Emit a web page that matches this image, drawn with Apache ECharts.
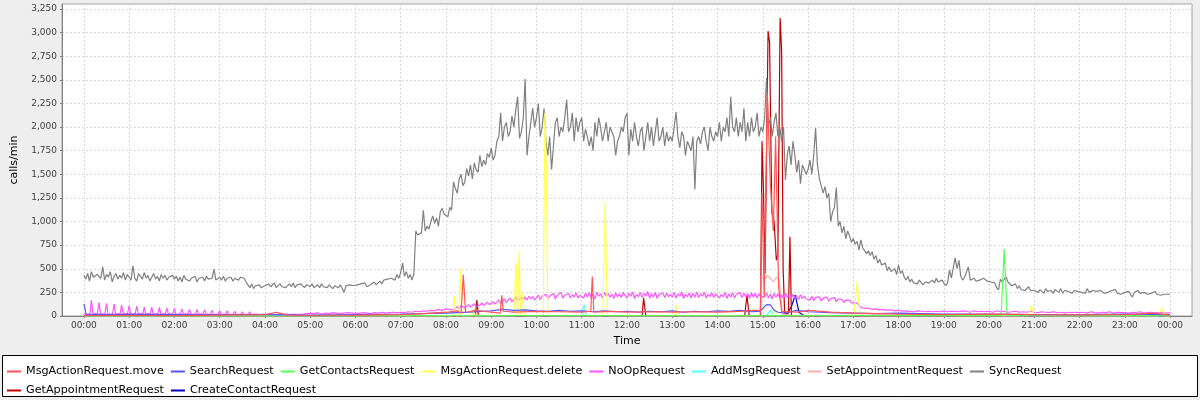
<!DOCTYPE html>
<html>
<head>
<meta charset="utf-8">
<script src="https://cdn.jsdelivr.net/npm/echarts@6/dist/echarts.min.js"></script>
<style>
html,body{margin:0;padding:0;background:#eeeeee;}
#chart{width:1200px;height:400px;}
</style>
</head>
<body>
<div id="chart"></div>
<script>
// ---- data (minutes since 00:00, calls/min) ----
const seriesNames = ['MsgActionRequest.move','SearchRequest','GetContactsRequest','MsgActionRequest.delete','NoOpRequest','AddMsgRequest','SetAppointmentRequest','SyncRequest','GetAppointmentRequest','CreateContactRequest'];
const seriesColors = ['#ff5555','#5555ff','#55ff55','#ffff55','#ff55ff','#55ffff','#ffafaf','#808080','#c00000','#0000c0'];
const hourTicks = [0,60,120,180,240,300,360,420,480,540,600,660,720,780,840,900,960,1020,1080,1140,1200,1260,1320,1380,1440];
const hourLabels = ['00:00','01:00','02:00','03:00','04:00','05:00','06:00','07:00','08:00','09:00','10:00','11:00','12:00','13:00','14:00','15:00','16:00','17:00','18:00','19:00','20:00','21:00','22:00','23:00','00:00'];

// SyncRequest, one value every 2.5 minutes from 00:00 to 24:00 (24 per hour)
const syncStep = 2.5;
const syncRequest = [
430,390,450,370,470,410,390,440,460,400,520,380,440,410,470,360,420,450,390,430,400,460,380,440,
410,380,530,400,370,450,420,390,460,400,430,370,410,450,390,420,370,440,400,430,380,410,390,430,
390,420,370,410,360,430,390,410,370,400,380,420,360,400,390,410,370,420,390,370,400,495,380,400,
410,380,420,370,400,390,410,370,400,420,380,410,390,400,360,330,300,340,290,320,310,330,300,320,
320,300,340,310,330,350,300,320,340,310,330,300,320,340,310,350,300,330,310,340,320,300,330,310,
310,340,300,320,330,300,340,310,320,300,330,310,290,320,340,300,330,310,250,320,300,330,310,320,
300,330,310,340,320,350,310,300,330,340,360,330,350,370,340,380,360,390,370,400,420,380,440,400,
460,560,420,470,400,440,380,450,900,860,840,880,1120,900,950,920,1000,1060,980,1040,950,1100,1140,1080,
1100,1050,1150,1120,1420,1350,1300,1450,1500,1380,1420,1560,1480,1600,1450,1620,1550,1520,1700,1580,1650,1600,1720,1680,
1780,1650,1700,1850,1900,2150,1850,2000,2050,1900,1950,2120,2000,2180,2320,1880,1950,2100,2510,1700,1900,2050,2200,2000,
2100,2250,1900,2000,2200,1850,1700,1900,1550,1800,2050,2100,1900,2000,1950,2100,2290,1950,2000,2150,1850,2100,1950,2050,
2100,1850,1980,2000,1800,1900,1750,2050,1900,2100,2000,1850,1950,2050,1850,2000,1950,1900,1700,1850,1900,2000,1950,2100,
2150,1700,1980,1850,2050,1900,1800,1950,2000,1750,1900,2050,1850,2000,1800,1950,2100,1850,1900,2000,1800,1950,1850,1900,
1850,2000,2160,1900,1780,1950,1900,1700,1850,1800,1750,1900,1340,1850,1900,1820,1950,2000,1850,1750,2000,1900,1850,1950,
1900,2050,1850,2000,1950,2100,1900,2320,2000,1950,2100,1900,2050,1950,2200,1850,2050,1900,2100,1950,2000,2150,1900,2000,
1950,2100,2520,2000,2100,1900,2050,2150,1900,2000,1850,2000,1440,1700,1800,1600,1850,1700,1520,1650,1400,1600,1550,1500,
1550,1650,1500,1700,1990,1600,1450,1380,1300,1370,1250,1300,1000,1100,1150,1360,950,1000,880,950,820,900,850,780,
820,760,790,700,806,720,730,660,690,640,680,600,640,560,600,540,520,560,480,520,470,450,500,440,
540,450,480,410,380,420,360,390,350,370,340,380,370,330,360,340,350,330,380,350,400,360,340,380,
380,320,350,488,400,380,615,500,590,420,380,410,400,520,380,360,400,370,390,380,360,400,380,370,
390,360,380,350,300,276,390,360,370,417,360,340,320,300,340,290,320,280,300,270,290,310,270,280,
270,290,250,280,260,240,290,260,250,270,240,280,260,250,290,240,270,250,260,280,240,270,250,260,
280,250,260,240,290,250,230,270,250,260,240,270,280,240,260,250,230,270,250,280,240,260,230,250,
250,230,260,240,200,250,230,270,240,220,250,260,230,250,240,220,260,230,250,220,240,230,250,230,
230
];

// NoOpRequest: night [minute, value] pairs, then sampled stretches
const noOpNight = [[0,20],[5,15],[8,20],[10,170],[12,20],[18,25],[20,145],[22,20],[28,25],[30,135],[32,20],[38,20],[40,125],[42,25],[48,20],[50,115],[52,20],[58,25],[60,110],[62,20],[68,20],[70,105],[72,25],[78,20],[80,95],[82,20],[88,25],[90,95],[92,20],[98,20],[100,90],[102,25],[108,20],[110,85],[112,20],[118,25],[120,80],[122,20],[128,20],[130,75],[132,20],[138,25],[140,70],[142,20],[148,20],[150,70],[152,20],[158,20],[160,65],[162,20],[168,20],[170,60],[172,15],[178,20],[180,55],[182,15],[188,20],[190,55],[192,15],[198,20],[200,50],[202,15],[208,20],[210,45],[212,15],[218,20],[220,45],[222,15],[228,20],[230,40],[232,15],[238,20],[240,40],[242,15],[248,20],[250,35],[252,15],[258,20],[260,35],[262,15],[268,20],[270,35],[272,15],[278,20],[280,30],[282,15],[290,20]];
// 05:00 - 07:55, every 5 min
const noOpEarly = [
30,25,35,20,30,25,35,30,25,30,35,30,
30,25,35,30,25,35,30,40,30,35,40,35,
40,35,45,40,50,45,55,50,60,55,70,60
];
// 08:00 - 16:57.5, every 2.5 min
const noOpDay = [
75,60,70,90,65,80,100,75,110,90,85,100,120,95,110,130,100,120,115,140,110,130,145,120,
130,150,125,140,170,135,150,180,145,160,190,150,170,200,160,150,190,165,200,170,210,180,205,170,
190,220,175,210,190,230,185,210,200,240,180,220,200,250,190,220,205,240,190,225,200,245,190,220,
220,190,240,200,250,195,230,180,250,210,235,190,250,210,240,200,230,185,245,205,235,195,250,215,
190,240,210,255,185,230,205,250,195,240,210,260,190,235,200,250,185,230,210,245,195,240,205,230,
200,250,190,235,210,255,185,230,205,245,190,240,200,255,195,235,210,250,190,230,205,245,195,235,
240,190,230,205,250,185,235,200,245,190,230,210,250,195,240,205,235,185,245,200,240,190,235,205,
220,200,245,190,230,180,240,200,235,190,225,185,240,195,220,180,230,190,215,175,225,185,210,180,
200,170,210,165,195,175,205,160,190,170,200,155,185,165,195,150,180,160,175,145,170,150,165,140
];
// 17:00 - 24:00, every 5 min
const noOpLate = [
160,140,90,80,85,70,75,65,70,60,65,55,
60,50,55,50,45,55,50,45,50,45,50,45,
55,45,50,50,45,55,50,40,55,45,50,45,
50,40,55,45,50,40,45,50,40,45,40,50,
40,35,45,40,35,45,35,40,30,40,35,40,
35,40,30,45,35,30,40,35,45,30,40,35,
35,30,40,35,45,30,35,40,30,35,40,30,
35
];

const msgMove = [[0,5],[60,8],[120,5],[180,10],[240,15],[255,40],[270,10],[300,8],[360,10],[420,15],[450,25],[480,40],[495,55],[500,30],[503,435],[506,40],[520,60],[540,40],[552,30],[554,220],[556,50],[570,40],[600,50],[630,45],[660,40],[672,50],[674,417],[676,40],[700,50],[720,40],[750,45],[780,40],[810,45],[840,40],[870,50],[890,60],[897,60],[899,1300],[902,200],[906,2360],[910,1400],[914,900],[917,1900],[921,300],[925,50],[945,40],[960,60],[990,40],[1020,30],[1050,25],[1080,20],[1140,15],[1200,20],[1260,15],[1320,12],[1380,15],[1420,30],[1440,10]];
const searchReq = [[0,127],[3,20],[30,15],[60,20],[120,15],[180,15],[240,15],[300,10],[360,15],[420,20],[450,25],[480,30],[510,40],[540,55],[555,70],[570,60],[585,65],[600,55],[615,50],[630,60],[645,50],[660,55],[675,45],[690,55],[705,45],[720,50],[735,40],[750,50],[765,45],[780,55],[795,40],[810,50],[825,45],[840,55],[855,50],[870,60],[885,45],[895,50],[900,80],[905,120],[910,117],[915,60],[920,40],[930,30],[945,60],[955,50],[960,45],[975,40],[990,35],[1020,30],[1050,25],[1080,30],[1110,25],[1140,20],[1200,20],[1260,15],[1320,15],[1380,20],[1440,15]];
const getContacts = [[0,0],[420,2],[600,5],[900,5],[1080,3],[1216,3],[1220,710],[1224,3],[1440,2]];
const msgDelete = [[0,0],[420,0],[480,5],[489,0],[491,210],[493,0],[497,0],[499,500],[501,0],[515,0],[517,80],[519,0],[570,0],[573,565],[575,0],[577,690],[579,0],[582,240],[584,0],[609,0],[611,2150],[613,1620],[615,0],[688,0],[691,1210],[694,0],[783,0],[785,120],[787,0],[914,0],[916,80],[918,0],[1021,0],[1025,365],[1029,0],[1252,0],[1256,110],[1260,0],[1424,0],[1429,85],[1434,0],[1440,0]];
const addMsg = [[0,0],[480,3],[660,5],[663,120],[666,5],[905,5],[910,60],[915,5],[1440,0]];
const setAppointment = [[0,0],[880,5],[896,10],[898,420],[902,380],[906,430],[910,400],[914,360],[918,410],[922,380],[926,20],[935,10],[1440,0]];
const getAppointment = [[0,0],[500,0],[519,0],[521,170],[523,0],[740,0],[742,190],[745,0],[876,0],[879,220],[882,0],[897,0],[899,1850],[901,1300],[903,450],[907,3015],[909,2900],[912,1100],[915,1000],[918,590],[920,650],[923,3155],[925,2800],[927,500],[929,30],[934,30],[936,840],[938,0],[1440,0]];
const createContact = [[0,0],[600,3],[930,3],[938,100],[943,220],[948,40],[955,3],[1440,0]];

// ---- build ----
const syncData = syncRequest.map((v, i) => [i * syncStep, v]);
const noOpData = noOpNight
  .concat(noOpEarly.map((v, i) => [300 + i * 5, v]))
  .concat(noOpDay.map((v, i) => [480 + i * 2.5, v]))
  .concat(noOpLate.map((v, i) => [1020 + i * 5, v]));
const seriesData = [msgMove, searchReq, getContacts, msgDelete, noOpData, addMsg, setAppointment, syncData, getAppointment, createContact];

const font = 'DejaVu Sans';
const chart = echarts.init(document.getElementById('chart'), null, {renderer: 'canvas'});
const legendItems = seriesNames.map((n, i) => ({
  name: n, icon: 'rect',
  itemStyle: {color: seriesColors[i], borderWidth: 0, opacity: 1}
}));
const legendCommon = {
  orient: 'horizontal', padding: 0, itemGap: 7, itemWidth: 14, itemHeight: 2,
  itemStyle: {borderWidth: 0},
  lineStyle: {width: 0},
  textStyle: {fontFamily: font, fontSize: 11.2, color: '#000'}, selectedMode: false
};
chart.setOption({
  backgroundColor: '#eeeeee',
  animation: false,
  textStyle: {fontFamily: font},
  grid: {left: 62, right: 8, top: 4, bottom: 84, show: true, backgroundColor: '#ffffff', borderColor: '#a0a0a0', borderWidth: 1, containLabel: false},
  graphic: [{type: 'rect', z: -1, shape: {x: 2.5, y: 355.5, width: 1195, height: 41}, style: {fill: '#ffffff', stroke: '#000000', lineWidth: 1}}],
  legend: [
    Object.assign({left: 7, top: 366, data: legendItems.slice(0, 8)}, legendCommon),
    Object.assign({left: 7, top: 385, data: legendItems.slice(8)}, legendCommon)
  ],
  xAxis: {
    type: 'value', min: -29, max: 1469,
    name: 'Time', nameLocation: 'middle', nameGap: 20,
    nameTextStyle: {fontFamily: font, fontSize: 11, color: '#000'},
    axisLine: {onZero: false, lineStyle: {color: '#808080'}},
    axisTick: {show: true, length: 2, customValues: hourTicks, lineStyle: {color: '#808080'}},
    axisLabel: {customValues: hourTicks, fontFamily: font, fontSize: 9, color: '#404040', margin: 5,
      formatter: v => hourLabels[hourTicks.indexOf(v)] || ''},
    splitLine: {show: true, lineStyle: {color: '#d8d8d8', type: [2, 2], width: 1}}
  },
  yAxis: {
    type: 'value', min: 0, max: 3303, interval: 250,
    name: 'calls/min', nameLocation: 'middle', nameGap: 42, nameRotate: 90,
    nameTextStyle: {fontFamily: font, fontSize: 11, color: '#000'},
    axisLine: {show: true, onZero: false, lineStyle: {color: '#808080'}},
    axisTick: {show: true, length: 2, lineStyle: {color: '#808080'}},
    axisLabel: {fontFamily: font, fontSize: 9, color: '#404040', margin: 5, showMaxLabel: false,
      formatter: v => v.toLocaleString('en-US')},
    splitLine: {show: true, lineStyle: {color: '#d8d8d8', type: [2, 2], width: 1}}
  },
  series: seriesNames.map((name, i) => ({
    name: name, type: 'line', data: seriesData[i], showSymbol: false, symbol: 'none',
    color: seriesColors[i], itemStyle: {color: seriesColors[i]},
    lineStyle: {width: 1.2, color: seriesColors[i]},
    z: 20 - i, silent: true, sampling: null
  }))
});
</script>
</body>
</html>
